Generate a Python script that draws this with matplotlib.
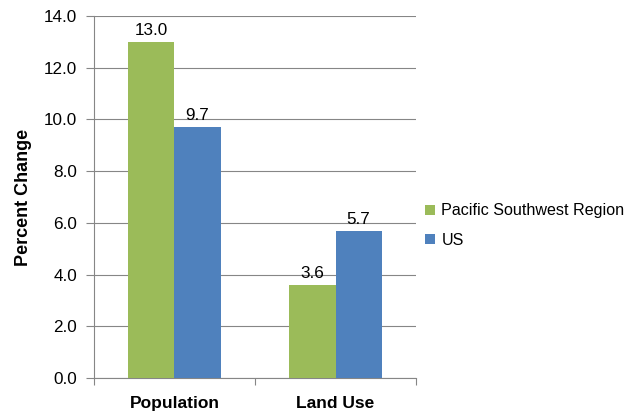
import numpy as np
from matplotlib import pyplot as plt

plt.rcParams.update({"font.family": "Liberation Sans", "font.size": 12})

categories = ['Population', 'Land Use']
series_names = ['Pacific Southwest Region', 'US']
pacific = [13.0, 3.6]
us = [9.7, 5.7]

green = '#9BBB59'
blue = '#4F81BD'
grid_col = '#868686'

fig = plt.figure(figsize=(6.42, 4.17), dpi=100)
ax = fig.add_axes([0.1464, 0.0935, 0.5016, 0.8681])

x = np.arange(len(categories))
w = 0.287
b1 = ax.bar(x - w/2, pacific, w, color=green, label=series_names[0], zorder=3)
b2 = ax.bar(x + w/2, us, w, color=blue, label=series_names[1], zorder=3)

for bars, vals in ((b1, pacific), (b2, us)):
    for r, v in zip(bars, vals):
        ax.text(r.get_x() + r.get_width()/2, v + 0.15, '%.1f' % v,
                ha='center', va='bottom', fontsize=12.3)

ax.set_xlim(-0.5, 1.5)
ax.set_ylim(0, 14)
ax.set_yticks(np.arange(0, 14.1, 2))
ax.set_yticklabels(['%.1f' % t for t in np.arange(0, 14.1, 2)], fontsize=12.3)
ax.yaxis.grid(True, color=grid_col, lw=0.8, zorder=0)
ax.set_xticks([-0.5, 0.5, 1.5])
ax.set_xticklabels([])
ax.set_xticks(x, minor=True)
ax.set_xticklabels(categories, minor=True, fontweight='bold', fontsize=12.5)
ax.tick_params(axis='x', which='minor', length=0, pad=13)
ax.tick_params(axis='x', which='major', length=5, color=grid_col, width=0.8)
ax.tick_params(axis='y', length=6, color=grid_col, width=0.8, pad=6)
for s in ('top', 'right'):
    ax.spines[s].set_visible(False)
for s in ('left', 'bottom'):
    ax.spines[s].set_color(grid_col)
    ax.spines[s].set_linewidth(0.8)
ax.set_ylabel('Percent Change', fontweight='bold', fontsize=13, labelpad=9)

fig.legend(loc='center left', bbox_to_anchor=(0.64, 0.459), frameon=False,
           handlelength=0.6, handleheight=0.6, handletextpad=0.4,
           labelspacing=0.9, fontsize=11.6)

plt.savefig('out.png', dpi=100)
